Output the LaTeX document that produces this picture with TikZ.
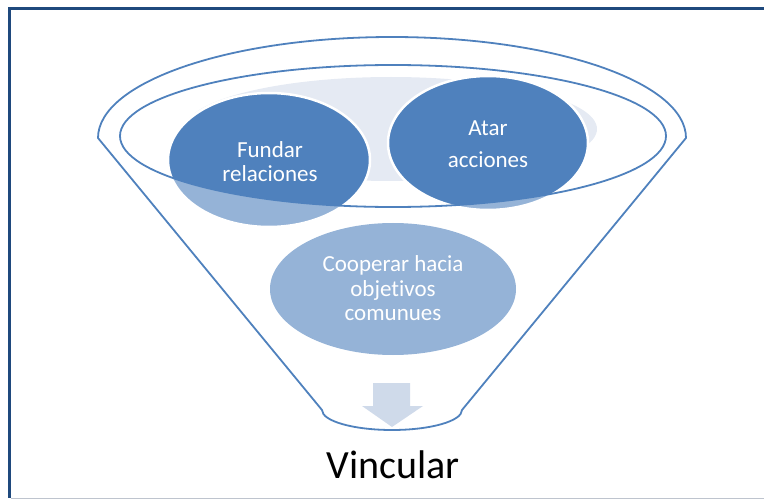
\documentclass[tikz,border=0pt]{standalone}
\usepackage{fontspec}
\setmainfont{Carlito}[Ligatures=NoCommon]
\definecolor{framec}{RGB}{31,73,125}
\definecolor{greyline}{RGB}{190,196,206}
\definecolor{darkb}{RGB}{79,129,189}
\definecolor{lightb}{RGB}{149,179,215}
\definecolor{paleb}{RGB}{229,234,243}
\definecolor{arrowc}{RGB}{207,218,234}
\begin{document}
\begin{tikzpicture}[x=1pt,y=-1pt,
  funnelline/.style={draw=darkb,line width=1.8pt,line join=round},
  ringborder/.style={draw=white,line width=2.5pt},
  lbl/.style={text=white,align=center,inner sep=0pt}]
\useasboundingbox (0,0) rectangle (764,500);
% frame
\draw[framec,line width=3pt] (764,9) -- (9,9) -- (9,498);
\draw[greyline,line width=1.5pt] (10.5,498.5) -- (764,498.5);
% back pale ellipse
\fill[paleb] (391,129) ellipse [x radius=206pt, y radius=52pt];
% Fundar circle
\fill[lightb] (269,160) ellipse [x radius=101pt, y radius=67pt];
\begin{scope}
  \clip (393,136) ellipse [x radius=273pt, y radius=71pt];
  \fill[darkb] (269,160) ellipse [x radius=101pt, y radius=67pt];
\end{scope}
\draw[ringborder] (269,160) ellipse [x radius=101pt, y radius=67pt];
% Atar circle
\fill[lightb] (488,143) ellipse [x radius=100pt, y radius=67pt];
\begin{scope}
  \clip (393,136) ellipse [x radius=273pt, y radius=71pt];
  \fill[darkb] (488,143) ellipse [x radius=100pt, y radius=67pt];
\end{scope}
\draw[ringborder] (488,143) ellipse [x radius=100pt, y radius=67pt];
% Cooperar
\fill[lightb] (393,289) ellipse [x radius=123pt, y radius=66pt];
% inner rim
\draw[funnelline] (393,136) ellipse [x radius=273pt, y radius=71pt];
% outer funnel
\draw[funnelline] (686,138) arc[start angle=0, end angle=180, x radius=294pt, y radius=101pt]
  -- (322,410) arc[start angle=180, end angle=360, x radius=70pt, y radius=20pt] -- cycle;
% arrow
\fill[arrowc] (373,383) -- (410,383) -- (410,406) -- (423,406) -- (392,427) -- (362,406) -- (373,406) -- cycle;
% labels
\node[lbl,font=\fontsize{23}{23.5}\selectfont] (fundar) at (270,161.5) {Fundar\\relaciones};
\node[lbl,font=\fontsize{23}{32}\selectfont] (atar) at (488,144) {Atar\\acciones};
\node[lbl,font=\fontsize{23}{24.5}\selectfont] (cooperar) at (393,288.5) {Cooperar hacia\\objetivos\\comunues};
\node[anchor=base,inner sep=0pt,font=\fontsize{40}{45}\selectfont] (vincular) at (393,478) {Vincular};
\end{tikzpicture}
\end{document}
